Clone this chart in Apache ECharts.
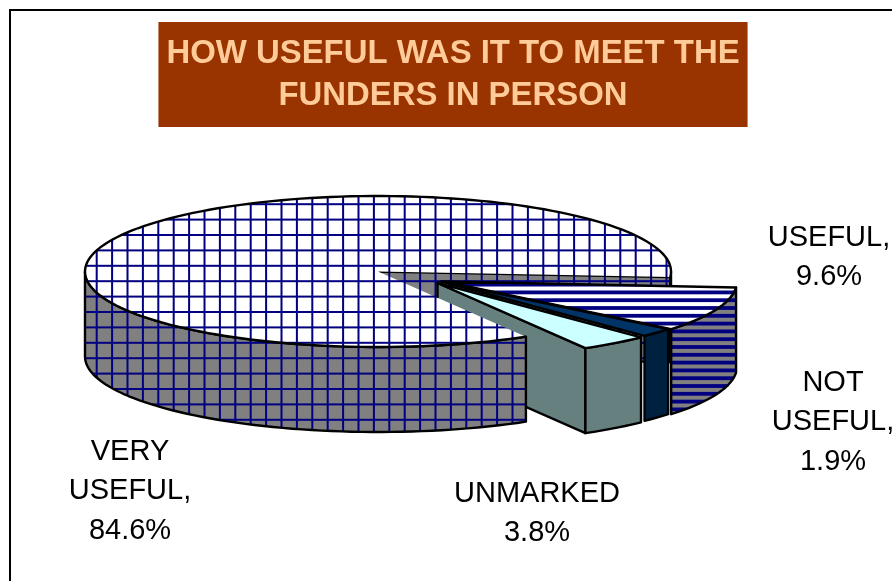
<!DOCTYPE html>
<html>
<head>
<meta charset="utf-8">
<style>html,body{margin:0;padding:0;background:#fff}#main{width:892px;height:581px}</style>
<script src="https://cdn.jsdelivr.net/npm/echarts@6/dist/echarts.min.js"></script>
</head>
<body>
<div id="main"></div>
<script>
// clockwise from the slice just under the 3 o'clock position
var categories = ['USEFUL', 'NOT USEFUL', 'UNMARKED', 'VERY USEFUL'];
var values = [9.6, 1.9, 3.8, 84.6];
var labelLines = [['USEFUL,'], ['NOT', 'USEFUL,'], ['UNMARKED'], ['VERY', 'USEFUL,']];

var START_DEG = 4.6;
var CX = 378, CY = 271.5, RX = 293, RY = 75.5, DEPTH = 85;
// pull-out of each slice, null = stays in place
var explodeBy = [[66, 10], [63, 10], [59.5, 11.5], null];
var labelPos = [[829, 238], [833, 383], [537, 494], [130, 452]];
var FONT = '"Liberation Sans", Arial, sans-serif';

function makeGrid(bg) {
    var c = document.createElement('canvas');
    c.width = 154; c.height = 154;
    var ctx = c.getContext('2d');
    ctx.fillStyle = bg;
    ctx.fillRect(0, 0, 154, 154);
    ctx.fillStyle = '#000080';
    for (var i = 0; i < 10; i++) {
        ctx.fillRect(4.3 + i * 15.4 - 1, 0, 2, 154);
        ctx.fillRect(0, 4 + i * 15.4 - 1, 154, 2);
    }
    return { image: c, repeat: 'repeat' };
}

function makeStripes(bg) {
    var c = document.createElement('canvas');
    c.width = 8; c.height = 156;
    var ctx = c.getContext('2d');
    ctx.fillStyle = bg;
    ctx.fillRect(0, 0, 8, 156);
    ctx.fillStyle = '#000080';
    for (var i = 0; i < 20; i++) {
        ctx.fillRect(0, 1.9 + i * 7.8, 8, 3.8);
    }
    return { image: c, repeat: 'repeat' };
}

var skins = [
    { top: makeStripes('#ffffff'), wall: makeStripes('#808080') },
    { top: '#003366', wall: '#002040' },
    { top: '#ccffff', wall: '#668080' },
    { top: makeGrid('#ffffff'), wall: makeGrid('#808080') }
];

function rim(cx, cy, a0, a1, dy) {
    var pts = [], n = Math.max(1, Math.ceil(Math.abs(a1 - a0) / 2));
    for (var i = 0; i <= n; i++) {
        var a = (a0 + (a1 - a0) * i / n) * Math.PI / 180;
        pts.push([cx + RX * Math.cos(a), cy + RY * Math.sin(a) + (dy || 0)]);
    }
    return pts;
}

function poly(points, fill, z2, stroke) {
    return {
        type: 'polygon',
        z2: z2,
        shape: { points: points },
        style: { fill: fill, stroke: stroke === false ? null : '#000', lineWidth: 2.4, lineJoin: 'round' }
    };
}

function wallOf(cx, cy, s, e, fill, z2) {
    return poly(rim(cx, cy, s, e).concat(rim(cx, cy, s, e, DEPTH).reverse()), fill, z2);
}

function cutOf(cx, cy, a, fill, z2) {
    var r = rim(cx, cy, a, a)[0];
    return poly([[cx, cy], r, [r[0], r[1] + DEPTH], [cx, cy + DEPTH]], fill, z2);
}

function renderSlice(params, api) {
    var i = params.dataIndex;
    var before = 0;
    for (var k = 0; k < i; k++) before += values[k];
    var a0 = START_DEG + before * 3.6;
    var a1 = a0 + api.value(0) * 3.6;
    var off = explodeBy[i];
    var cx = CX + (off ? off[0] : 0);
    var cy = CY + (off ? off[1] : 0);
    var skin = skins[i];
    var kids = [];
    var topPts = [[cx, cy]].concat(rim(cx, cy, a0, a1));

    if (off) {
        // last pulled-out slice shows its cut face to the viewer
        if (i === 2) kids.push(cutOf(cx, cy, a1, skin.wall, 1));
        kids.push(wallOf(cx, cy, a0, a1, skin.wall, 2));
        kids.push(poly(topPts, skin.top, 3));
    } else {
        // big slice: its far cut face sits at the back, seen through the gap
        kids.push(cutOf(cx, cy, a1, skin.wall, 0));
        kids.push(wallOf(cx, cy, 360, a1, skin.wall, 0));
        kids.push(wallOf(cx, cy, a0, 180, skin.wall, 5));
        kids.push(poly(topPts, skin.top, 6, false));
        kids.push({
            type: 'polyline',
            z2: 7,
            shape: { points: rim(cx, cy, a0, a1) },
            style: { fill: null, stroke: '#000', lineWidth: 2.4 }
        });
    }
    return { type: 'group', children: kids };
}

function labelItems() {
    return categories.map(function (name, i) {
        return {
            type: 'text',
            x: labelPos[i][0],
            y: labelPos[i][1] - 20,
            style: {
                text: labelLines[i].concat([values[i].toFixed(1) + '%']).join('\n'),
                font: '29px ' + FONT,
                fill: '#000',
                align: 'center',
                lineHeight: 39.5
            }
        };
    });
}

var chart = echarts.init(document.getElementById('main'));
chart.setOption({
    animation: false,
    backgroundColor: '#fff',
    title: {
        text: 'HOW USEFUL WAS IT TO MEET THE\nFUNDERS IN PERSON',
        left: 445,
        top: 22,
        textAlign: 'center',
        padding: [11, 8, 10, 8],
        backgroundColor: '#993300',
        textStyle: {
            color: '#ffcc99',
            fontFamily: FONT,
            fontWeight: 'bold',
            fontSize: 32.9,
            lineHeight: 42
        }
    },
    graphic: [{
        type: 'rect',
        z: -1,
        shape: { x: 10, y: 10, width: 1000, height: 1000 },
        style: { fill: null, stroke: '#000', lineWidth: 2 }
    }].concat(labelItems()),
    series: [{
        type: 'custom',
        coordinateSystem: 'none',
        silent: true,
        data: values,
        renderItem: renderSlice
    }]
});
</script>
</body>
</html>
